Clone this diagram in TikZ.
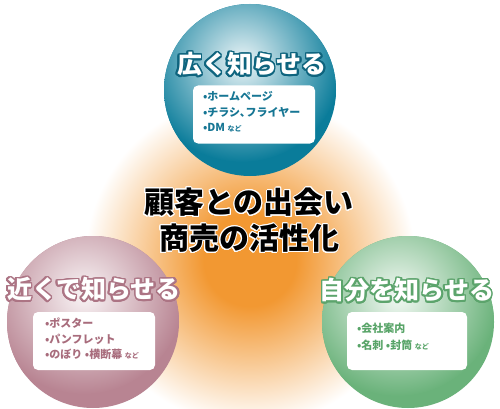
\documentclass[tikz,border=0pt]{standalone}
\usepackage{fontspec}
\setmainfont{Noto Sans CJK JP}[BoldFont={Noto Sans CJK JP Bold}]
\newfontfamily\jpheavy{Noto Sans CJK JP Black}
\usepackage[copies]{contour}
\contournumber{24}
\usepackage{tikz}
\usetikzlibrary{positioning}
\definecolor{wideteal}{RGB}{10,124,154}
\definecolor{widetext}{RGB}{22,118,148}
\definecolor{wideline}{RGB}{14,100,126}
\definecolor{nearrose}{RGB}{184,132,146}
\definecolor{neartext}{RGB}{168,108,124}
\definecolor{nearline}{RGB}{172,116,132}
\definecolor{selfgreen}{RGB}{106,178,122}
\definecolor{selftext}{RGB}{88,164,104}
\definecolor{selfline}{RGB}{92,164,108}
\definecolor{meetorange}{RGB}{242,152,50}
\pgfdeclareradialshading{meetglow}{\pgfpointorigin}{color(0bp)=(meetorange); color(7bp)=(meetorange); color(25bp)=(white); color(50bp)=(white)}
\newcommand{\nado}{{\fontsize{7}{7}\selectfont など}}

\begin{document}
\begin{tikzpicture}[x=1pt, y=-1pt, every node/.style={inner sep=0pt},
  titletext/.style={font=\jpheavy\fontsize{25}{25}\selectfont},
  listbox/.style={draw=none, fill=white, rounded corners=5pt, minimum width=122pt, minimum height=58pt},
  listtext/.style={font=\jpheavy\fontsize{11}{15.5}\selectfont, align=left, anchor=north west}]
  \useasboundingbox (0,0) rectangle (500,409);
  \fill[white] (0,0) rectangle (500,409);
  % orange glow behind everything
  \shade[shading=meetglow] (250,260) circle (165pt);
  % three spheres: base colour, then a highlight clipped to the disc
  \def\Rsph{86pt}
  \foreach \cx/\cy/\hx/\hy/\col in {250/90/242/62/wideteal, 93/322/84/294/nearrose, 408/322/398/296/selfgreen}{
    \fill[\col] (\cx,\cy) circle (\Rsph);
    \begin{scope}
      \clip (\cx,\cy) circle (\Rsph);
      \shade[inner color=\col!8, outer color=\col] (\hx,\hy) circle (100pt);
    \end{scope}
  }

  % white lists
  \node[listbox] (widebox) at (254,114.5) {};
  \node[listbox] (nearbox) at (94,341) {};
  \node[listbox, minimum width=120pt] (selfbox) at (407,341) {};

  \node[listtext, text=widetext] (wideitems) at ([xshift=10pt, yshift=-6pt]widebox.north west)
    {•ホームページ\\ •チラシ､フライヤー\\ •DM \nado};
  \node[listtext, text=neartext] (nearitems) at ([xshift=12pt, yshift=-6pt]nearbox.north west)
    {•ポスター\\ •パンフレット\\ •のぼり\ •横断幕 \nado};
  \node[listtext, text=selftext, font=\jpheavy\fontsize{11}{17}\selectfont] (selfitems) at ([xshift=10pt, yshift=-11pt]selfbox.north west)
    {•会社案内\\ •名刺\ •封筒 \nado};

  % sphere titles, white with a coloured rim
  \contourlength{1.6pt}
  \node[titletext, text=white] (widetitle) at (252,65) {\contour{wideline}{広く知らせる}};
  \node[titletext, text=white] (neartitle) at (94,290) {\contour{nearline}{近くで知らせる}};
  \node[titletext, text=white] (selftitle) at (407,291) {\contour{selfline}{自分を知らせる}};

  % centre message
  \contourlength{1pt}
  \node[font=\jpheavy\fontsize{30}{30}\selectfont] (meetline) at (249,203) {\contour{white}{顧客との出会い}};
  \node[font=\jpheavy\fontsize{30}{30}\selectfont, below=6pt of meetline] (tradeline) {\contour{white}{商売の活性化}};
\end{tikzpicture}
\end{document}
